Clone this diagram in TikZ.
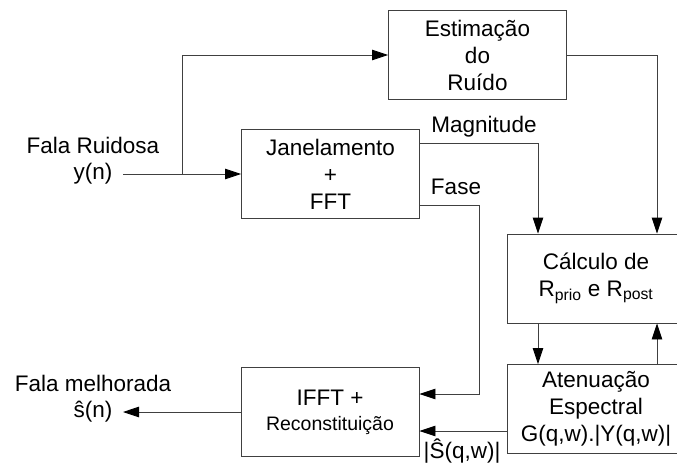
\documentclass[tikz,border=0pt]{standalone}
\usepackage{fontspec}
\setmainfont{Liberation Sans}
\usetikzlibrary{arrows.meta}
\begin{document}
\begin{tikzpicture}[x=1pt,y=-1pt,
  blk/.style={draw=black!75,line width=0.9pt,fill=white,minimum width=178pt,minimum height=89pt,align=center,inner sep=0pt,font=\fontsize{22.5}{27}\selectfont},
  lbl/.style={align=center,inner sep=0pt,font=\fontsize{22.5}{26}\selectfont},
  arr/.style={draw=black!75,line width=0.9pt,-{Triangle[length=16pt,width=10.5pt,color=black]}},
  ln/.style={draw=black!75,line width=0.9pt}]
\useasboundingbox (0,0) rectangle (677,466);
\node[blk] (est) at (477.5,55) {Estimação\\do\\Ruído};
\node[blk] (jan) at (330.5,174) {Janelamento\\+\\FFT};
\node[blk] (calc) at (596,278.5) {Cálculo de\\R\textsubscript{prio} e R\textsubscript{post}};
\node[blk] (aten) at (596,409) {Atenuação\\Espectral\\G(q,w).|Y(q,w)|};
\node[blk] (ifft) at (330,412) {IFFT +\\[-2pt]{\fontsize{19.5}{23}\selectfont Reconstituição}};
\node[lbl] (in) at (93,161) {Fala Ruidosa\\y(n)};
\node[lbl] (out) at (93,399) {Fala melhorada\\ŝ(n)};
\node[lbl] (mag) at (484,127) {Magnitude};
\node[lbl] (fase) at (456,187) {Fase};
\node[lbl] (shat) at (462,451) {|Ŝ(q,w)|};
\coordinate (in1) at (123,174);
\coordinate (br) at (182,174);
\coordinate (fk) at (479,394);
\coordinate (sq) at (507,431);
\coordinate (o1) at (123,412);
\draw[arr] (in1) -- (jan.west);
\draw[arr] (br) |- (est.west);
\draw[arr] (est.east) -| ([xshift=61pt]calc.north);
\draw[arr] ([yshift=31pt]jan.east) -| ([xshift=-58pt]calc.north);
\draw[arr] ([yshift=-31pt]jan.east) -| (fk) -- (fk -| ifft.east);
\draw[arr] ([xshift=-58pt]calc.south) -- ([xshift=-58pt]aten.north);
\draw[arr] ([xshift=61pt]aten.north) -- ([xshift=61pt]calc.south);
\draw[arr] (sq) -- (sq -| ifft.east);
\draw[arr] (ifft.west) -- (o1);
\end{tikzpicture}
\end{document}
